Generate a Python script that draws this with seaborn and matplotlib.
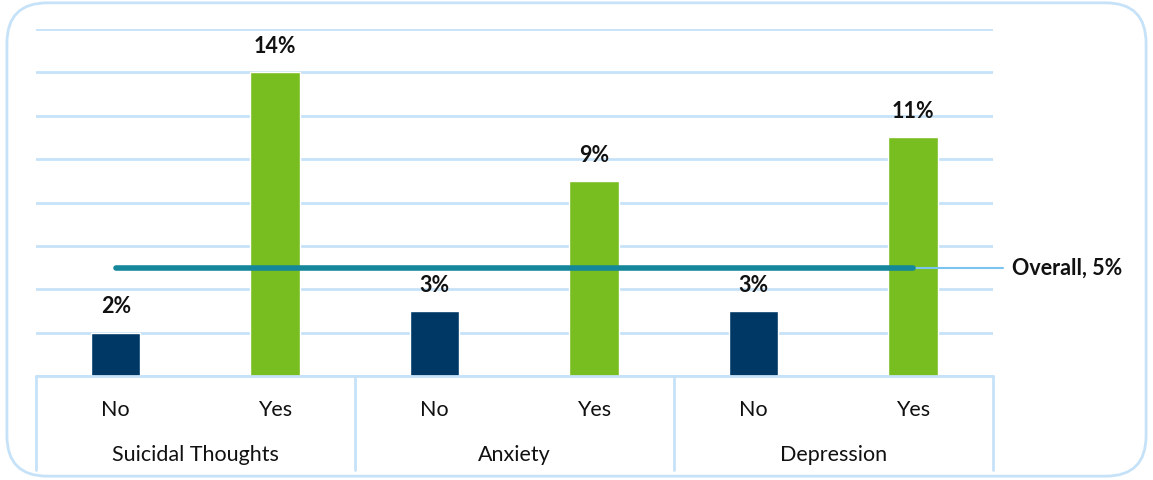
import pandas as pd
import matplotlib.pyplot as plt
import seaborn as sns
from matplotlib.patches import FancyBboxPatch

groups = ["Suicidal Thoughts", "Anxiety", "Depression"]
responses = ["No", "Yes"]
values = [2, 14, 3, 9, 3, 11]
overall = 5

rows = []
i = 0
for g in groups:
    for r in responses:
        rows.append({"key": g + "|" + r, "Group": g, "Response": r, "Value": values[i]})
        i += 1
df = pd.DataFrame(rows)

sns.set_style("white")
plt.rcParams["font.family"] = ["Lato", "DejaVu Sans"]

grid_col = "#C6E2F8"
palette = {"No": "#003865", "Yes": "#78BE21"}
fs = 15.5

fig = plt.figure(figsize=(11.53, 4.81), dpi=100)
ax = fig.add_axes([0.0312, 0.2162, 0.83, 0.7214])

sns.barplot(data=df, x="key", y="Value", hue="Response", palette=palette,
            dodge=False, width=0.31, legend=False, saturation=1, ax=ax)

ax.set_ylim(0, 16)
ax.set_xlim(-0.5, 5.5)
ax.set_yticks(range(0, 17, 2))
ax.yaxis.grid(True, color=grid_col, linewidth=2)
ax.set_axisbelow(True)
ax.tick_params(left=False, labelleft=False, bottom=False)
for s in ax.spines.values():
    s.set_visible(False)
ax.axhline(0, color=grid_col, linewidth=2, clip_on=False)
ax.set_xlabel("")
ax.set_ylabel("")

ax.set_xticks(range(len(df)))
ax.set_xticklabels(df["Response"], fontsize=fs, color="#111111")
ax.tick_params(axis="x", pad=13)

# bar value labels
for xi, v in enumerate(df["Value"]):
    ax.text(xi, v + 0.75, f"{v}%", ha="center", va="bottom", fontsize=fs,
            fontweight="bold", color="#111111")

# group labels and separators
trans = ax.get_xaxis_transform()
for gi, g in enumerate(groups):
    ax.text(gi * 2 + 0.5, -0.225, g, transform=trans, ha="center", va="center",
            fontsize=fs, color="#111111")
for b in [-0.5, 1.5, 3.5, 5.5]:
    ax.plot([b, b], [0, -0.27], transform=trans, color=grid_col, linewidth=2,
            clip_on=False)

# overall reference line
ax.plot([0, 5], [overall, overall], color="#14879B", linewidth=4,
        solid_capstyle="round", zorder=4)
ax.plot([5, 5.56], [overall, overall], color="#7CC4F0", linewidth=1.5,
        clip_on=False, zorder=3)
ax.text(5.62, overall, f"Overall, {overall}%", ha="left", va="center",
        fontsize=fs, fontweight="bold", color="#111111", clip_on=False)

# rounded frame
frame = FancyBboxPatch((0.006, 0.008), 0.988, 0.984,
                       boxstyle="round,pad=0,rounding_size=0.035",
                       transform=fig.transFigure, fill=False,
                       edgecolor=grid_col, linewidth=2, mutation_aspect=2.4)
fig.patches.append(frame)

fig.savefig("out.png", dpi=100)
